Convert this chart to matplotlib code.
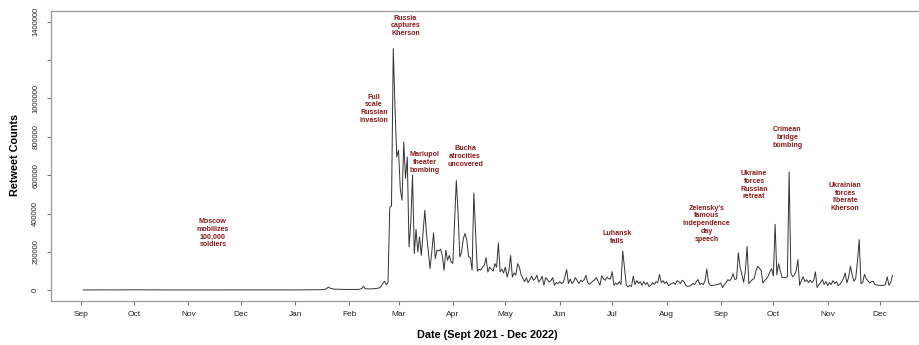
import numpy as np
import pandas as pd
import matplotlib
matplotlib.use('Agg')
import matplotlib.pyplot as plt
import matplotlib.dates as mdates

plt.rcParams['font.family'] = ['Liberation Sans', 'DejaVu Sans']

# quiet period, read every few days (the line is flat here)
quiet_dates = ['2021-09-02', '2021-09-12', '2021-09-22', '2021-10-02', '2021-10-12',
               '2021-10-22', '2021-11-01', '2021-11-11', '2021-11-21', '2021-12-01',
               '2021-12-11', '2021-12-21', '2021-12-31', '2022-01-10', '2022-01-16',
               '2022-01-18', '2022-01-19', '2022-01-20', '2022-01-21', '2022-01-23',
               '2022-01-26', '2022-01-30', '2022-02-03', '2022-02-06', '2022-02-08',
               '2022-02-09', '2022-02-10', '2022-02-13', '2022-02-16', '2022-02-18']
quiet_counts = [1500, 2000, 1800, 2500, 2000, 1600, 1800, 1500, 1700, 1600,
                1900, 1500, 1800, 2200, 3000, 4000, 9000, 17000, 10000, 6000,
                5000, 4000, 4500, 4000, 9000, 21000, 8000, 7000, 9000, 12000]

# daily counts from 19 Feb 2022
feb_2022 = [20000, 35000, 47000, 30000, 40000, 431000, 440000, 1260000, 950000, 695000]
mar_2022 = [730000, 530000, 470000, 773000, 583000, 695000, 226000, 350000, 600000, 191000,
            318000, 200000, 278000, 182000, 300000, 417000, 292000, 200000, 113000, 200000,
            299000, 165000, 209000, 205000, 214000, 180000, 104000, 209000, 156000, 182000,
            148000]
apr_2022 = [140000, 350000, 573000, 400000, 174000, 200000, 270000, 296000, 260000, 175000,
            170000, 105000, 507000, 300000, 100000, 110000, 105000, 121000, 130000, 170000,
            95000, 120000, 110000, 100000, 139000, 120000, 247000, 96000, 110000, 90000]
may_2022 = [121000, 69000, 100000, 181000, 69000, 90000, 80000, 139000, 120000, 80000,
            61000, 45000, 65000, 40000, 56000, 73000, 52000, 60000, 78000, 43000,
            55000, 73000, 26000, 66000, 55000, 43000, 50000, 66000, 26000, 40000,
            35000]
jun_2022 = [45000, 35000, 40000, 70000, 108000, 35000, 59000, 35000, 45000, 66000,
            50000, 35000, 52000, 45000, 55000, 78000, 40000, 31000, 40000, 48000,
            55000, 66000, 45000, 26000, 76000, 60000, 52000, 69000, 60000, 59000]
jul_2022 = [97000, 26000, 38000, 30000, 45000, 30000, 205000, 120000, 30000, 17000,
            25000, 20000, 73000, 30000, 50000, 35000, 45000, 25000, 45000, 30000,
            40000, 20000, 25000, 40000, 30000, 45000, 40000, 82000, 40000, 50000,
            35000]
aug_2022 = [45000, 25000, 30000, 35000, 40000, 30000, 50000, 45000, 35000, 52000,
            45000, 25000, 20000, 22000, 25000, 35000, 30000, 45000, 56000, 30000,
            35000, 30000, 50000, 111000, 40000, 26000, 25000, 26000, 28000, 30000,
            32000]
sep_2022 = [38000, 14000, 30000, 40000, 55000, 50000, 60000, 87000, 56000, 60000,
            196000, 120000, 83000, 42000, 100000, 229000, 35000, 45000, 56000, 60000,
            100000, 125000, 115000, 104000, 38000, 50000, 60000, 73000, 95000, 113000]
oct_2022 = [75000, 344000, 80000, 139000, 100000, 66000, 66000, 66000, 70000, 617000,
            90000, 70000, 80000, 100000, 160000, 26000, 50000, 70000, 45000, 55000,
            40000, 52000, 40000, 50000, 96000, 14000, 30000, 40000, 56000, 30000,
            45000]
nov_2022 = [25000, 40000, 30000, 50000, 35000, 45000, 25000, 30000, 45000, 60000,
            90000, 38000, 70000, 125000, 80000, 47000, 60000, 150000, 264000, 35000,
            40000, 83000, 60000, 50000, 38000, 45000, 47000, 30000, 28000, 26000]
dec_2022 = [25000, 26000, 25000, 30000, 70000, 26000, 40000, 78000]

monthly = [('2022-02-19', feb_2022), ('2022-03-01', mar_2022), ('2022-04-01', apr_2022),
           ('2022-05-01', may_2022), ('2022-06-01', jun_2022), ('2022-07-01', jul_2022),
           ('2022-08-01', aug_2022), ('2022-09-01', sep_2022), ('2022-10-01', oct_2022),
           ('2022-11-01', nov_2022), ('2022-12-01', dec_2022)]

event_labels = ['Moscow\nmobilizes\n100,000\nsoldiers',
                'Full\nscale\nRussian\ninvasion',
                'Russia\ncaptures\nKherson',
                'Mariupol\ntheater\nbombing',
                'Bucha\natrocities\nuncovered',
                'Luhansk\nfalls',
                "Zelensky's\nfamous\nindependence\nday\nspeech",
                'Ukraine\nforces\nRussian\nretreat',
                'Crimean\nbridge\nbombing',
                'Ukrainian\nforces\nliberate\nKherson']
event_dates = ['2021-11-15', '2022-02-15', '2022-03-05', '2022-03-16', '2022-04-08',
               '2022-07-04', '2022-08-24', '2022-09-20', '2022-10-09', '2022-11-11']
event_y = [297000, 946000, 1378000, 667000, 697000, 277000, 347000, 547000, 796000, 486000]

y_ticks = [0, 200000, 400000, 600000, 800000, 1000000, 1200000, 1400000]
y_tick_labels = ['0', '200000', '400000', '600000', '800000', '1000000', '', '1400000']

dates = list(pd.to_datetime(quiet_dates))
counts = list(quiet_counts)
for start, vals in monthly:
    dates += list(pd.date_range(start, periods=len(vals), freq='D'))
    counts += vals

fig = plt.figure(figsize=(9.19, 3.45), dpi=100)
ax = fig.add_axes([51/919, 44/345, 873/919, 290/345])
ax.plot(dates, counts, color='#333333', lw=0.7)

origen = mdates.date2num(pd.Timestamp('2021-09-01'))
ax.set_xlim(origen - 17.4, origen + 481)
ax.set_ylim(-56000, 1456000)

month_ticks = pd.date_range('2021-09-01', '2022-12-01', freq='MS')
ax.set_xticks(month_ticks)
ax.set_xticklabels([d.strftime('%b') for d in month_ticks])
ax.set_yticks(y_ticks)
ax.set_yticklabels(y_tick_labels, rotation=90, va='center')

for lado in ['top', 'right', 'bottom', 'left']:
    ax.spines[lado].set_color('#999999')
    ax.spines[lado].set_linewidth(0.9)
ax.tick_params(axis='x', length=3, width=0.8, color='#777777', labelsize=6,
               labelcolor='#222222', pad=4.5)
ax.tick_params(axis='y', length=3, width=0.8, color='#777777', labelsize=5.5,
               labelcolor='#222222', pad=5.5)

for texto, fecha, yv in zip(event_labels, event_dates, event_y):
    ax.text(pd.Timestamp(fecha), yv, texto, ha='center', va='center', fontsize=5.1,
            fontweight='bold', color='#8B1A1A', linespacing=1.15)

fig.text(15/919, 1 - 155/345, 'Retweet Counts', rotation=90, ha='center', va='center',
         fontsize=7.8, fontweight='bold')
fig.text(487.7/919, 1 - 335.5/345, 'Date (Sept 2021 - Dec 2022)', ha='center', va='center',
         fontsize=7.8, fontweight='bold')

fig.savefig('out.png', dpi=100)
